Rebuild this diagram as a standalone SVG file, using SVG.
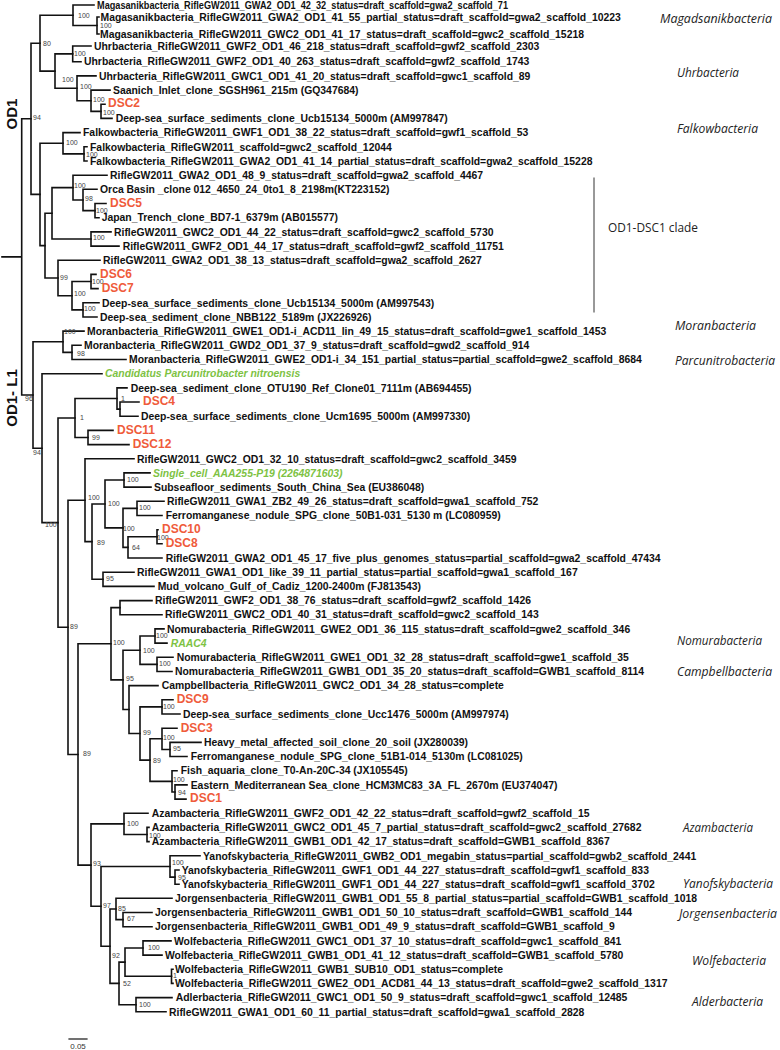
<svg xmlns="http://www.w3.org/2000/svg" width="780" height="1050" viewBox="0 0 780 1050">
<style>
.l{font-family:"Liberation Sans",Arial,sans-serif;font-size:10.4px;font-weight:bold;fill:#111}
.d{font-family:"Liberation Sans",Arial,sans-serif;font-size:12px;font-weight:bold;fill:#EF5B3B}
.g{font-family:"Liberation Sans",Arial,sans-serif;font-size:10.4px;font-weight:bold;font-style:italic;fill:#7DC243}
.s{font-family:"Liberation Sans",Arial,sans-serif;font-size:7px;fill:#444}
.c{font-family:"Open Sans","Liberation Sans",sans-serif;font-size:12.5px;font-style:italic;fill:#222}
.k{font-family:"Open Sans","Liberation Sans",sans-serif;font-size:13px;fill:#222}
.big{font-family:"Liberation Sans",Arial,sans-serif;font-size:15px;font-weight:bold;fill:#111}
#connectors path{stroke:#111;stroke-width:1.6;fill:none;stroke-linecap:square}
</style>
<rect width="780" height="1050" fill="#fff"/>
<g id="connectors">
<path d="M97,17V34M97,17H99M97,34H99"/>
<path d="M73,5V25.5M73,5H94M73,25.5H97"/>
<path d="M72.7,46V61.7M72.7,46H91M72.7,61.7H81"/>
<path d="M101,104.3V118.4M101,104.3H105M101,118.4H112"/>
<path d="M91,90.1V111.35M91,90.1H110M91,111.35H101"/>
<path d="M77,75.9V100.7M77,75.9H96M77,100.7H91"/>
<path d="M55,53.85V88.3M55,53.85H72.7M55,88.3H77"/>
<path d="M40,15.25V71.1M40,15.25H73M40,71.1H55"/>
<path d="M84,146.8V161M84,146.8H87M84,161H87"/>
<path d="M63,132.6V153.9M63,132.6H80M63,153.9H84"/>
<path d="M95,203.5V217.7M95,203.5H106M95,217.7H99"/>
<path d="M83,189.3V210.6M83,189.3H97M83,210.6H95"/>
<path d="M73,175.2V199.95M73,175.2H107M73,199.95H83"/>
<path d="M91,231.9V246.1M91,231.9H111M91,246.1H119"/>
<path d="M52,187.6V239M52,187.6H73M52,239H91"/>
<path d="M91,274.4V288.6M91,274.4H96M91,288.6H98"/>
<path d="M83,302.8V317M83,302.8H99M83,317H97"/>
<path d="M72,281.5V309.9M72,281.5H91M72,309.9H83"/>
<path d="M58,260.2V295.7M58,260.2H100M58,295.7H72"/>
<path d="M45,213.3V277.95M45,213.3H52M45,277.95H58"/>
<path d="M40,143.25V245.6M40,143.25H63M40,245.6H45"/>
<path d="M31,43.2V194.4M31,43.2H40M31,194.4H40"/>
<path d="M2,256.9H21.7M21.7,118.8V395M21.7,118.8H31M21.7,395H33"/>
<path d="M72,345.3V359.5M72,345.3H81M72,359.5H126"/>
<path d="M63,331.1V352.4M63,331.1H84M63,352.4H72"/>
<path d="M33,341.75V448.2M33,341.75H63M33,448.2H42"/>
<path d="M42,373.7V522.65M42,373.7H102M42,522.65H58"/>
<path d="M120,402V416.2M120,402H139M120,416.2H138"/>
<path d="M117,387.9V409.1M117,387.9H127M117,409.1H120"/>
<path d="M88,430.4V444.6M88,430.4H113M88,444.6H129"/>
<path d="M75,398.5V437.5M75,398.5H117M75,437.5H88"/>
<path d="M58,418V627.3M58,418H75M58,627.3H68"/>
<path d="M124,472.9V487.1M124,472.9H150M124,487.1H151"/>
<path d="M137,501.3V515.5M137,501.3H164M137,515.5H162"/>
<path d="M157,529.7V543.8M157,529.7H158M157,543.8H162"/>
<path d="M128,536.75V558M128,536.75H157M128,558H162"/>
<path d="M123,508.4V547.4M123,508.4H137M123,547.4H128"/>
<path d="M105,480V527.9M105,480H124M105,527.9H123"/>
<path d="M103,572.2V586.4M103,572.2H134M103,586.4H154"/>
<path d="M92,504V579.3M92,504H105M92,579.3H103"/>
<path d="M85,458.8V541.65M85,458.8H134M85,541.65H92"/>
<path d="M68,500.2V754.45M68,500.2H85M68,754.45H78"/>
<path d="M120,600.6V614.7M120,600.6H152M120,614.7H162"/>
<path d="M155,628.9V643.1M155,628.9H164M155,643.1H167"/>
<path d="M157,657.3V671.5M157,657.3H173M157,671.5H172"/>
<path d="M140,636V664.4M140,636H155M140,664.4H157"/>
<path d="M162,699.8V714M162,699.8H173M162,714H180"/>
<path d="M170,742.4V756.5M170,742.4H201M170,756.5H187"/>
<path d="M162,728.2V749.45M162,728.2H177M162,749.45H170"/>
<path d="M175,784.9V799.1M175,784.9H187M175,799.1H186"/>
<path d="M172,770.7V792M172,770.7H177M172,792H175"/>
<path d="M150,738.8V781.35M150,738.8H162M150,781.35H172"/>
<path d="M140,706.9V760.1M140,706.9H162M140,760.1H150"/>
<path d="M129,685.6V733.5M129,685.6H158M129,733.5H140"/>
<path d="M123,650.2V709.55M123,650.2H140M123,709.55H129"/>
<path d="M111,607.65V679.9M111,607.65H120M111,679.9H123"/>
<path d="M78,643.8V865.1M78,643.8H111M78,865.1H91"/>
<path d="M147,827.4V841.6M147,827.4H149M147,841.6H149"/>
<path d="M124,813.3V834.5M124,813.3H148M124,834.5H147"/>
<path d="M175,870V884.2M175,870H179M175,884.2H179"/>
<path d="M170,855.8V877.1M170,855.8H200M170,877.1H175"/>
<path d="M123,912.5V926.7M123,912.5H152M123,926.7H152"/>
<path d="M116,898.3V919.6M116,898.3H172M116,919.6H123"/>
<path d="M143,940.9V955.1M143,940.9H171M143,955.1H162"/>
<path d="M171.5,969.2V983.4M171.5,969.2H173M171.5,983.4H173"/>
<path d="M125,948V976.3M125,948H143M125,976.3H171.5"/>
<path d="M136,997.6V1011.8M136,997.6H172M136,1011.8H166"/>
<path d="M119,962.15V1004.7M119,962.15H125M119,1004.7H136"/>
<path d="M110,908.95V983.4M110,908.95H116M110,983.4H119"/>
<path d="M101,866.45V946.2M101,866.45H170M101,946.2H110"/>
<path d="M91,823.9V906.3M91,823.9H124M91,906.3H101"/>
<path d="M594,178V312" style="stroke-width:1;stroke:#333"/>
<path d="M69,1039H87" style="stroke-width:1.2"/>
</g>
<g id="support">
<text class="s" x="78" y="17.5">100</text>
<text class="s" x="100" y="27.5">100</text>
<text class="s" x="43" y="45.5">80</text>
<text class="s" x="74" y="55.5">100</text>
<text class="s" x="62" y="81.5">100</text>
<text class="s" x="80" y="88.5">100</text>
<text class="s" x="93" y="101.5">100</text>
<text class="s" x="103" y="115">100</text>
<text class="s" x="33" y="119.5">94</text>
<text class="s" x="66" y="144.5">100</text>
<text class="s" x="86" y="157">100</text>
<text class="s" x="74" y="187.5">100</text>
<text class="s" x="85" y="200.5">98</text>
<text class="s" x="96" y="213">100</text>
<text class="s" x="93" y="239.5">100</text>
<text class="s" x="60" y="279.5">99</text>
<text class="s" x="92" y="284">100</text>
<text class="s" x="74" y="295.5">100</text>
<text class="s" x="84" y="310.5">100</text>
<text class="s" x="64" y="334">100</text>
<text class="s" x="77" y="355.5">98</text>
<text class="s" x="25" y="400.5">96</text>
<text class="s" x="121" y="400.5">1</text>
<text class="s" x="80" y="419.5">1</text>
<text class="s" x="92" y="439.5">99</text>
<text class="s" x="33" y="454.5">94</text>
<text class="s" x="127" y="481.5">100</text>
<text class="s" x="88" y="500">100</text>
<text class="s" x="108" y="505.5">100</text>
<text class="s" x="139" y="509.5">100</text>
<text class="s" x="45" y="527">100</text>
<text class="s" x="123" y="530.5">100</text>
<text class="s" x="157" y="540">100</text>
<text class="s" x="97" y="544.5">89</text>
<text class="s" x="132" y="549.5">64</text>
<text class="s" x="106" y="580.5">95</text>
<text class="s" x="70" y="628.5">89</text>
<text class="s" x="156" y="638">100</text>
<text class="s" x="113" y="644.5">100</text>
<text class="s" x="143" y="652.5">100</text>
<text class="s" x="159" y="666">100</text>
<text class="s" x="126" y="680.5">95</text>
<text class="s" x="163" y="708.5">100</text>
<text class="s" x="143" y="734.5">99</text>
<text class="s" x="163" y="739.5">100</text>
<text class="s" x="173" y="751">95</text>
<text class="s" x="83" y="756">89</text>
<text class="s" x="153" y="762.5">89</text>
<text class="s" x="173" y="781.5">100</text>
<text class="s" x="178" y="794.5">94</text>
<text class="s" x="127" y="825.5">100</text>
<text class="s" x="149" y="837.5">100</text>
<text class="s" x="93" y="865.5">93</text>
<text class="s" x="172" y="865">100</text>
<text class="s" x="178" y="879.5">95</text>
<text class="s" x="103" y="907.5">97</text>
<text class="s" x="118" y="910.5">85</text>
<text class="s" x="127" y="921">67</text>
<text class="s" x="148" y="950">100</text>
<text class="s" x="112" y="957.5">92</text>
<text class="s" x="173" y="977.5">1</text>
<text class="s" x="123" y="985.5">52</text>
<text class="s" x="139" y="1006.5">100</text>
</g>
<g id="leaves">
<g id="leaf-0"><text class="l" x="97" y="8.7" textLength="411" lengthAdjust="spacingAndGlyphs">Magasanikbacteria_RifleGW2011_GWA2_OD1_42_32_status=draft_scaffold=gwa2_scaffold_71</text></g>
<g id="leaf-1"><text class="l" x="100.5" y="20.7">Magasanikbacteria_RifleGW2011_GWA2_OD1_41_55_partial_status=draft_scaffold=gwa2_scaffold_10223</text></g>
<g id="leaf-2"><text class="l" x="100" y="37.7">Magasanikbacteria_RifleGW2011_GWC2_OD1_41_17_status=draft_scaffold=gwc2_scaffold_15218</text></g>
<g id="leaf-3"><text class="l" x="94" y="49.7">Uhrbacteria_RifleGW2011_GWF2_OD1_46_218_status=draft_scaffold=gwf2_scaffold_2303</text></g>
<g id="leaf-4"><text class="l" x="84" y="65.4">Uhrbacteria_RifleGW2011_GWF2_OD1_40_263_status=draft_scaffold=gwf2_scaffold_1743</text></g>
<g id="leaf-5"><text class="l" x="99" y="79.6">Uhrbacteria_RifleGW2011_GWC1_OD1_41_20_status=draft_scaffold=gwc1_scaffold_89</text></g>
<g id="leaf-6"><text class="l" x="113" y="93.8">Saanich_Inlet_clone_SGSH961_215m (GQ347684)</text></g>
<g id="leaf-7"><text class="d" x="108" y="107.2">DSC2</text></g>
<g id="leaf-8"><text class="l" x="115.7" y="122.1">Deep-sea_surface_sediments_clone_Ucb15134_5000m (AM997847)</text></g>
<g id="leaf-9"><text class="l" x="83" y="136.3">Falkowbacteria_RifleGW2011_GWF1_OD1_38_22_status=draft_scaffold=gwf1_scaffold_53</text></g>
<g id="leaf-10"><text class="l" x="90" y="150.5">Falkowbacteria_RifleGW2011_scaffold=gwc2_scaffold_12044</text></g>
<g id="leaf-11"><text class="l" x="90" y="164.7">Falkowbacteria_RifleGW2011_GWA2_OD1_41_14_partial_status=draft_scaffold=gwa2_scaffold_15228</text></g>
<g id="leaf-12"><text class="l" x="110" y="178.9">RifleGW2011_GWA2_OD1_48_9_status=draft_scaffold=gwa2_scaffold_4467</text></g>
<g id="leaf-13"><text class="l" x="100" y="193">Orca Basin _clone 012_4650_24_0to1_8_2198m(KT223152)</text></g>
<g id="leaf-14"><text class="d" x="110" y="206.8">DSC5</text></g>
<g id="leaf-15"><text class="l" x="101.7" y="221.4">Japan_Trench_clone_BD7-1_6379m (AB015577)</text></g>
<g id="leaf-16"><text class="l" x="114" y="235.6">RifleGW2011_GWC2_OD1_44_22_status=draft_scaffold=gwc2_scaffold_5730</text></g>
<g id="leaf-17"><text class="l" x="122.7" y="249.8">RifleGW2011_GWF2_OD1_44_17_status=draft_scaffold=gwf2_scaffold_11751</text></g>
<g id="leaf-18"><text class="l" x="103" y="263.9">RifleGW2011_GWA2_OD1_38_13_status=draft_scaffold=gwa2_scaffold_2627</text></g>
<g id="leaf-19"><text class="d" x="100" y="277.7">DSC6</text></g>
<g id="leaf-20"><text class="d" x="101.7" y="291.9">DSC7</text></g>
<g id="leaf-21"><text class="l" x="102" y="306.5">Deep-sea_surface_sediments_clone_Ucb15134_5000m (AM997543)</text></g>
<g id="leaf-22"><text class="l" x="100" y="320.7">Deep-sea_sediment_clone_NBB122_5189m (JX226926)</text></g>
<g id="leaf-23"><text class="l" x="87" y="334.8">Moranbacteria_RifleGW2011_GWE1_OD1-i_ACD11_lin_49_15_status=draft_scaffold=gwe1_scaffold_1453</text></g>
<g id="leaf-24"><text class="l" x="84" y="349">Moranbacteria_RifleGW2011_GWD2_OD1_37_9_status=draft_scaffold=gwd2_scaffold_914</text></g>
<g id="leaf-25"><text class="l" x="129" y="363.2">Moranbacteria_RifleGW2011_GWE2_OD1-i_34_151_partial_status=partial_scaffold=gwe2_scaffold_8684</text></g>
<g id="leaf-26"><text class="g" x="105" y="377.4">Candidatus Parcunitrobacter nitroensis</text></g>
<g id="leaf-27"><text class="l" x="130.7" y="391.6">Deep-sea_sediment_clone_OTU190_Ref_Clone01_7111m (AB694455)</text></g>
<g id="leaf-28"><text class="d" x="143" y="405.3">DSC4</text></g>
<g id="leaf-29"><text class="l" x="141" y="419.9">Deep-sea_surface_sediments_clone_Ucm1695_5000m (AM997330)</text></g>
<g id="leaf-30"><text class="d" x="117" y="433.7">DSC11</text></g>
<g id="leaf-31"><text class="d" x="132.7" y="447.9">DSC12</text></g>
<g id="leaf-32"><text class="l" x="137" y="462.5">RifleGW2011_GWC2_OD1_32_10_status=draft_scaffold=gwc2_scaffold_3459</text></g>
<g id="leaf-33"><text class="g" x="153" y="476.6">Single_cell_AAA255-P19 (2264871603)</text></g>
<g id="leaf-34"><text class="l" x="154" y="490.8">Subseafloor_sediments_South_China_Sea (EU386048)</text></g>
<g id="leaf-35"><text class="l" x="167" y="505">RifleGW2011_GWA1_ZB2_49_26_status=draft_scaffold=gwa1_scaffold_752</text></g>
<g id="leaf-36"><text class="l" x="165.7" y="519.2">Ferromanganese_nodule_SPG_clone_50B1-031_5130 m (LC080959)</text></g>
<g id="leaf-37"><text class="d" x="162" y="532.5">DSC10</text></g>
<g id="leaf-38"><text class="d" x="165.7" y="547.1">DSC8</text></g>
<g id="leaf-39"><text class="l" x="165.7" y="561.7">RifleGW2011_GWA2_OD1_45_17_five_plus_genomes_status=partial_scaffold=gwa2_scaffold_47434</text></g>
<g id="leaf-40"><text class="l" x="137" y="575.9">RifleGW2011_GWA1_OD1_like_39_11_partial_status=partial_scaffold=gwa1_scaffold_167</text></g>
<g id="leaf-41"><text class="l" x="157.7" y="590.1">Mud_volcano_Gulf_of_Cadiz_1200-2400m (FJ813543)</text></g>
<g id="leaf-42"><text class="l" x="155" y="604.3">RifleGW2011_GWF2_OD1_38_76_status=draft_scaffold=gwf2_scaffold_1426</text></g>
<g id="leaf-43"><text class="l" x="165" y="618.4">RifleGW2011_GWC2_OD1_40_31_status=draft_scaffold=gwc2_scaffold_143</text></g>
<g id="leaf-44"><text class="l" x="167" y="632.6">Nomurabacteria_RifleGW2011_GWE2_OD1_36_115_status=draft_scaffold=gwe2_scaffold_346</text></g>
<g id="leaf-45"><text class="g" x="170.7" y="646.8">RAAC4</text></g>
<g id="leaf-46"><text class="l" x="176.7" y="661">Nomurabacteria_RifleGW2011_GWE1_OD1_32_28_status=draft_scaffold=gwe1_scaffold_35</text></g>
<g id="leaf-47"><text class="l" x="175" y="675.2">Nomurabacteria_RifleGW2011_GWB1_OD1_35_20_status=draft_scaffold=GWB1_scaffold_8114</text></g>
<g id="leaf-48"><text class="l" x="161.7" y="689.3">Campbellbacteria_RifleGW2011_GWC2_OD1_34_28_status=complete</text></g>
<g id="leaf-49"><text class="d" x="176.7" y="703.1">DSC9</text></g>
<g id="leaf-50"><text class="l" x="183" y="717.7">Deep-sea_surface_sediments_clone_Ucc1476_5000m (AM997974)</text></g>
<g id="leaf-51"><text class="d" x="180.7" y="731.5">DSC3</text></g>
<g id="leaf-52"><text class="l" x="204" y="746.1">Heavy_metal_affected_soil_clone_20_soil (JX280039)</text></g>
<g id="leaf-53"><text class="l" x="190.7" y="760.2">Ferromanganese_nodule_SPG_clone_51B1-014_5130m (LC081025)</text></g>
<g id="leaf-54"><text class="l" x="180.7" y="774.4">Fish_aquaria_clone_T0-An-20C-34 (JX105545)</text></g>
<g id="leaf-55"><text class="l" x="190.7" y="788.6">Eastern_Mediterranean Sea_clone_HCM3MC83_3A_FL_2670m (EU374047)</text></g>
<g id="leaf-56"><text class="d" x="190" y="802.4">DSC1</text></g>
<g id="leaf-57"><text class="l" x="151.7" y="817">Azambacteria_RifleGW2011_GWF2_OD1_42_22_status=draft_scaffold=gwf2_scaffold_15</text></g>
<g id="leaf-58"><text class="l" x="151.7" y="831.1">Azambacteria_RifleGW2011_GWC2_OD1_45_7_partial_status=draft_scaffold=gwc2_scaffold_27682</text></g>
<g id="leaf-59"><text class="l" x="151.7" y="845.3">Azambacteria_RifleGW2011_GWB1_OD1_42_17_status=draft_scaffold=GWB1_scaffold_8367</text></g>
<g id="leaf-60"><text class="l" x="203" y="859.5">Yanofskybacteria_RifleGW2011_GWB2_OD1_megabin_status=partial_scaffold=gwb2_scaffold_2441</text></g>
<g id="leaf-61"><text class="l" x="181.7" y="873.7">Yanofskybacteria_RifleGW2011_GWF1_OD1_44_227_status=draft_scaffold=gwf1_scaffold_833</text></g>
<g id="leaf-62"><text class="l" x="181.7" y="887.9">Yanofskybacteria_RifleGW2011_GWF1_OD1_44_227_status=draft_scaffold=gwf1_scaffold_3702</text></g>
<g id="leaf-63"><text class="l" x="175" y="902">Jorgensenbacteria_RifleGW2011_GWB1_OD1_55_8_partial_status=partial_scaffold=GWB1_scaffold_1018</text></g>
<g id="leaf-64"><text class="l" x="155" y="916.2">Jorgensenbacteria_RifleGW2011_GWB1_OD1_50_10_status=draft_scaffold=GWB1_scaffold_144</text></g>
<g id="leaf-65"><text class="l" x="155" y="930.4">Jorgensenbacteria_RifleGW2011_GWB1_OD1_49_9_status=draft_scaffold=GWB1_scaffold_9</text></g>
<g id="leaf-66"><text class="l" x="174" y="944.6">Wolfebacteria_RifleGW2011_GWC1_OD1_37_10_status=draft_scaffold=gwc1_scaffold_841</text></g>
<g id="leaf-67"><text class="l" x="165" y="958.8">Wolfebacteria_RifleGW2011_GWB1_OD1_41_12_status=draft_scaffold=GWB1_scaffold_5780</text></g>
<g id="leaf-68"><text class="l" x="175" y="972.9">Wolfebacteria_RifleGW2011_GWB1_SUB10_OD1_status=complete</text></g>
<g id="leaf-69"><text class="l" x="175" y="987.1">Wolfebacteria_RifleGW2011_GWE2_OD1_ACD81_44_13_status=draft_scaffold=gwe2_scaffold_1317</text></g>
<g id="leaf-70"><text class="l" x="175.7" y="1001.3">Adlerbacteria_RifleGW2011_GWC1_OD1_50_9_status=draft_scaffold=gwc1_scaffold_12485</text></g>
<g id="leaf-71"><text class="l" x="169" y="1015.5">RifleGW2011_GWA1_OD1_60_11_partial_status=draft_scaffold=gwa1_scaffold_2828</text></g>
</g>
<g id="clades">
<text class="c" x="660" y="22.5" textLength="112" lengthAdjust="spacingAndGlyphs">Magadsanikbacteria</text>
<text class="c" x="677" y="76.5" textLength="62" lengthAdjust="spacingAndGlyphs">Uhrbacteria</text>
<text class="c" x="677" y="132.5" textLength="81" lengthAdjust="spacingAndGlyphs">Falkowbacteria</text>
<text class="k" x="608" y="231.5" textLength="90" lengthAdjust="spacingAndGlyphs">OD1-DSC1 clade</text>
<text class="c" x="675" y="329.5" textLength="81" lengthAdjust="spacingAndGlyphs">Moranbacteria</text>
<text class="c" x="675" y="364.5" textLength="100" lengthAdjust="spacingAndGlyphs">Parcunitrobacteria</text>
<text class="c" x="677" y="644.5" textLength="85" lengthAdjust="spacingAndGlyphs">Nomurabacteria</text>
<text class="c" x="677" y="675.5" textLength="95" lengthAdjust="spacingAndGlyphs">Campbellbacteria</text>
<text class="c" x="683" y="831.5" textLength="70" lengthAdjust="spacingAndGlyphs">Azambacteria</text>
<text class="c" x="683" y="887.5" textLength="90" lengthAdjust="spacingAndGlyphs">Yanofskybacteria</text>
<text class="c" x="679" y="917.5" textLength="98" lengthAdjust="spacingAndGlyphs">Jorgensenbacteria</text>
<text class="c" x="692" y="964.5" textLength="74" lengthAdjust="spacingAndGlyphs">Wolfebacteria</text>
<text class="c" x="692" y="1005.5" textLength="71" lengthAdjust="spacingAndGlyphs">Alderbacteria</text>
</g>
<g id="groups">
<text class="big" transform="translate(17,114) rotate(-90)" text-anchor="middle">OD1</text>
<text class="big" transform="translate(17,398) rotate(-90)" text-anchor="middle">OD1- L1</text>
</g>
<g id="scale">
<text x="78" y="1049" text-anchor="middle" style="font-family:'Liberation Sans',Arial,sans-serif;font-size:8px;fill:#333">0.05</text>
</g>
</svg>
